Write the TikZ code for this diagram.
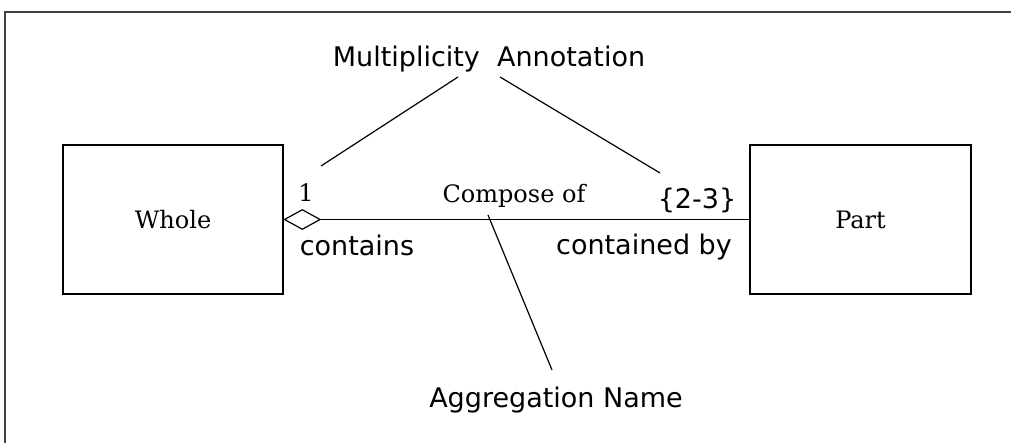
\documentclass[tikz,border=0pt]{standalone}
\usepackage{fontspec}
\setmainfont{DejaVu Serif}
\setsansfont{DejaVu Sans}
\usetikzlibrary{shapes.geometric}

\begin{document}
\begin{tikzpicture}[
  x=1pt, y=-1pt,
  cls/.style={draw, line width=1.4pt, minimum width=220pt, minimum height=149pt, inner sep=0pt, font=\fontsize{24}{28}\selectfont},
  tag/.style={anchor=base, inner sep=0pt, font=\fontsize{24}{28}\selectfont},
  role/.style={anchor=base, inner sep=0pt, font=\sffamily\fontsize{27}{32}\selectfont},
  lead/.style={line width=1.2pt},
]
\useasboundingbox (0,0) rectangle (1011,443);

% frame (only top and left edges)
\draw [line width=2pt, black!75] (5,443) -- (5,12) -- (1011,12);

% the two classes
\node [cls] (whole) at (173,219.5) {Whole};
\node [cls, minimum width=221pt] (part) at (860.5,219.5) {Part};

% aggregation diamond and link
\node [draw, diamond, line width=1.2pt, minimum width=36pt, minimum height=20pt, inner sep=0pt, anchor=west] (agg) at (whole.east) {};
\draw [lead] (agg.east) -- (part.west);

% ends and names
\node [tag] (one) at (306,202) {1};
\node [role] (contains) at (357,256) {contains};
\node [tag] (compose) at (514,203) {Compose of};
\node [role] (range) at (697,209) {\{2-3\}};
\node [role] (containedby) at (644,255) {contained by};

% annotations
\node [role] (annot) at (489,67) {Multiplicity\ \ Annotation};
\node [role] (aggname) at (556,407) {Aggregation Name};

\coordinate (m1) at (458,77);
\coordinate (m2) at (500,77);
\coordinate (e1) at (321,166);
\coordinate (e2) at (660,173);
\coordinate (n1) at (552,370);
\coordinate (n2) at (488,215);
\draw [lead] (m1) -- (e1);
\draw [lead] (m2) -- (e2);
\draw [lead] (n1) -- (n2);
\end{tikzpicture}
\end{document}
